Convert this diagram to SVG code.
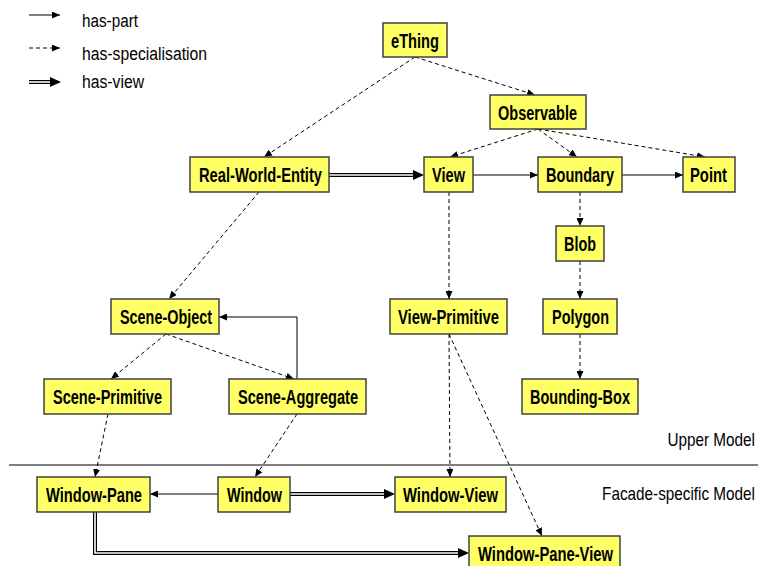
<svg xmlns="http://www.w3.org/2000/svg" width="758" height="566" viewBox="0 0 758 566">
<style>
  .box { fill: #ffff66; stroke: #404040; stroke-width: 1.5; }
  .lbl { font-family: "Liberation Sans", Arial, sans-serif; font-weight: bold; font-size: 19.5px; fill: #000; }
  .txt { font-family: "Liberation Sans", Arial, sans-serif; font-size: 18px; fill: #000; }
  .part { fill: none; stroke: #000; stroke-width: 1; marker-end: url(#ah); }
  .spec { fill: none; stroke: #000; stroke-width: 1; stroke-dasharray: 4 3; marker-end: url(#ah); }
  .viewo { fill: none; stroke: #000; stroke-width: 4; stroke-linejoin: miter; marker-end: url(#vh); }
  .viewi { fill: none; stroke: #fff; stroke-width: 1.6; stroke-linejoin: miter; }
  .sep { stroke: #000; stroke-width: 1.2; }
</style>
<defs>
  <marker id="ah" markerUnits="userSpaceOnUse" markerWidth="8" markerHeight="7" refX="8" refY="3.5" orient="auto">
    <path d="M0,0 L8,3.5 L0,7 z" fill="#000"/>
  </marker>
  <marker id="vh" markerUnits="userSpaceOnUse" markerWidth="12" markerHeight="10" refX="0" refY="5" orient="auto" overflow="visible">
    <path d="M0,0 L11,5 L0,10 z" fill="#000"/>
  </marker>
</defs>
<rect width="758" height="566" fill="#fff"/>

<g id="legend">
  <line class="part" x1="29" y1="15" x2="60" y2="15"/>
  <text class="txt" x="82" y="27" textLength="56" lengthAdjust="spacingAndGlyphs">has-part</text>
  <line class="spec" x1="29" y1="48" x2="60" y2="48"/>
  <text class="txt" x="82" y="60" textLength="125" lengthAdjust="spacingAndGlyphs">has-specialisation</text>
  <path class="viewo" d="M29,82 H50"/>
  <path class="viewi" d="M29,82 H50"/>
  <text class="txt" x="82" y="88" textLength="62" lengthAdjust="spacingAndGlyphs">has-view</text>
</g>

<g id="separator">
  <line class="sep" x1="9" y1="465" x2="758" y2="465"/>
  <text class="txt" transform="translate(755,446) scale(0.85,1)" x="0" y="0" text-anchor="end">Upper Model</text>
  <text class="txt" transform="translate(755,500) scale(0.85,1)" x="0" y="0" text-anchor="end">Facade-specific Model</text>
</g>

<g id="connectors">
  <!-- has-specialisation -->
  <path class="spec" d="M415,57 L264,157"/>
  <path class="spec" d="M415,57 L535,95"/>
  <path class="spec" d="M538,129 L450,157"/>
  <path class="spec" d="M538,129 L577,157"/>
  <path class="spec" d="M538,129 L705,157"/>
  <path class="spec" d="M580,192 L580,226"/>
  <path class="spec" d="M580,261 L580,299"/>
  <path class="spec" d="M580,334 L580,379"/>
  <path class="spec" d="M449,192 L449,299"/>
  <path class="spec" d="M259,192 L169,299"/>
  <path class="spec" d="M166,334 L111,379"/>
  <path class="spec" d="M166,334 L294,379"/>
  <path class="spec" d="M108,414 L95,477"/>
  <path class="spec" d="M297,414 L255,477"/>
  <path class="spec" d="M449,334 L450,477"/>
  <path class="spec" d="M449,334 L542,536"/>
  <!-- has-part -->
  <path class="part" d="M473,175 L538,175"/>
  <path class="part" d="M622,175 L683,175"/>
  <path class="part" d="M297,379 L297,317 L219,317"/>
  <path class="part" d="M218,494 L150,494"/>
  <!-- has-view -->
  <path class="viewo" d="M329,175 H413"/>
  <path class="viewi" d="M329,175 H413"/>
  <path class="viewo" d="M290,494 H384"/>
  <path class="viewi" d="M290,494 H384"/>
  <path class="viewo" d="M95,512 V553 H458"/>
  <path class="viewi" d="M95,511 V553 H458"/>
</g>

<g id="eThing"><rect class="box" x="383" y="23" width="64" height="34"/><text class="lbl" x="391" y="47.5" textLength="48" lengthAdjust="spacingAndGlyphs">eThing</text></g>
<g id="Observable"><rect class="box" x="490" y="95" width="96" height="34"/><text class="lbl" x="498" y="119.5" textLength="79" lengthAdjust="spacingAndGlyphs">Observable</text></g>
<g id="View"><rect class="box" x="424" y="157" width="49" height="35"/><text class="lbl" x="432" y="182" textLength="33" lengthAdjust="spacingAndGlyphs">View</text></g>
<g id="Boundary"><rect class="box" x="538" y="157" width="84" height="35"/><text class="lbl" x="546" y="182" textLength="68" lengthAdjust="spacingAndGlyphs">Boundary</text></g>
<g id="Point"><rect class="box" x="683" y="157" width="52" height="35"/><text class="lbl" x="690" y="182" textLength="37" lengthAdjust="spacingAndGlyphs">Point</text></g>
<g id="Real-World-Entity"><rect class="box" x="190" y="157" width="139" height="35"/><text class="lbl" x="199" y="182" textLength="123" lengthAdjust="spacingAndGlyphs">Real-World-Entity</text></g>
<g id="Blob"><rect class="box" x="556" y="226" width="48" height="35"/><text class="lbl" x="564" y="251" textLength="32" lengthAdjust="spacingAndGlyphs">Blob</text></g>
<g id="Polygon"><rect class="box" x="543" y="299" width="74" height="35"/><text class="lbl" x="552" y="323.5" textLength="57" lengthAdjust="spacingAndGlyphs">Polygon</text></g>
<g id="Bounding-Box"><rect class="box" x="522" y="379" width="116" height="35"/><text class="lbl" x="530" y="404" textLength="100" lengthAdjust="spacingAndGlyphs">Bounding-Box</text></g>
<g id="Scene-Object"><rect class="box" x="111" y="299" width="108" height="35"/><text class="lbl" x="120" y="323.5" textLength="92" lengthAdjust="spacingAndGlyphs">Scene-Object</text></g>
<g id="View-Primitive"><rect class="box" x="390" y="299" width="117" height="35"/><text class="lbl" x="398" y="323.5" textLength="101" lengthAdjust="spacingAndGlyphs">View-Primitive</text></g>
<g id="Scene-Primitive"><rect class="box" x="44" y="379" width="127" height="35"/><text class="lbl" x="53" y="404" textLength="109" lengthAdjust="spacingAndGlyphs">Scene-Primitive</text></g>
<g id="Scene-Aggregate"><rect class="box" x="229" y="379" width="137" height="35"/><text class="lbl" x="238" y="404" textLength="120" lengthAdjust="spacingAndGlyphs">Scene-Aggregate</text></g>
<g id="Window-Pane"><rect class="box" x="37" y="477" width="113" height="35"/><text class="lbl" x="46" y="502" textLength="96" lengthAdjust="spacingAndGlyphs">Window-Pane</text></g>
<g id="Window"><rect class="box" x="218" y="477" width="72" height="35"/><text class="lbl" x="227" y="502" textLength="55" lengthAdjust="spacingAndGlyphs">Window</text></g>
<g id="Window-View"><rect class="box" x="395" y="477" width="111" height="35"/><text class="lbl" x="403" y="502" textLength="95" lengthAdjust="spacingAndGlyphs">Window-View</text></g>
<g id="Window-Pane-View"><rect class="box" x="469" y="536" width="151" height="35"/><text class="lbl" x="478" y="561" textLength="135" lengthAdjust="spacingAndGlyphs">Window-Pane-View</text></g>
</svg>
